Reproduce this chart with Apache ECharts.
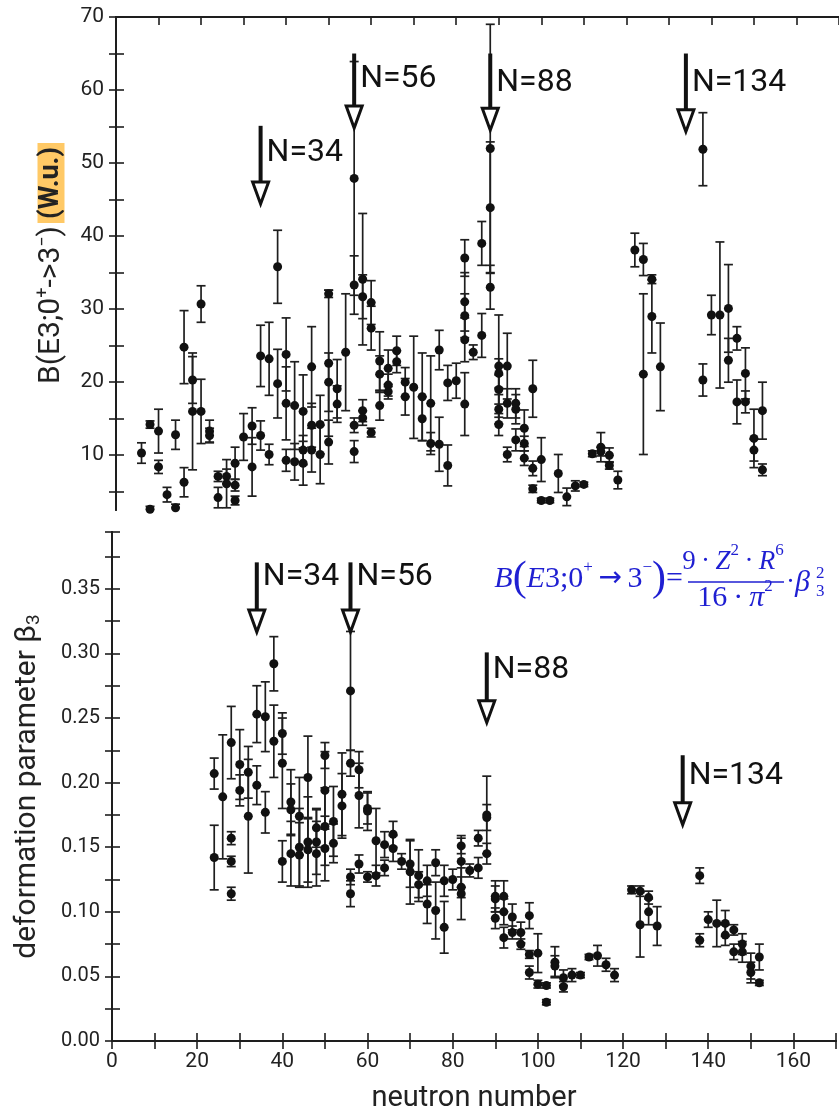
<!DOCTYPE html>
<html>
<head>
<meta charset="utf-8">
<script src="https://cdn.jsdelivr.net/npm/echarts@6/dist/echarts.min.js"></script>
<style>
  html, body { margin: 0; padding: 0; background: #fff; }
  #chart { width: 839px; height: 1114px; }
</style>
</head>
<body>
<div id="chart"></div>
<script>
// upper panel: B(E3; 0+ -> 3-) in W.u.
var topN = [6, 8, 8, 10, 10, 12, 14, 14, 16, 16, 18, 18, 20, 20, 22, 22, 24, 24, 26, 26,
  28, 28, 28, 30, 32, 32, 34, 34, 36, 36, 38, 38, 40, 40, 40, 42, 42, 44, 44, 44,
  46, 46, 46, 48, 48, 50, 50, 50, 50, 52, 52, 54, 56, 56, 56, 56, 58, 58, 58, 58,
  60, 60, 60, 62, 62, 62, 64, 64, 64, 66, 66, 68, 68, 70, 72, 72, 74, 74, 76, 76,
  78, 78, 80, 82, 82, 82, 82, 82, 84, 86, 86, 88, 88, 88, 90, 90, 90, 90, 90, 92,
  92, 92, 94, 94, 94, 96, 96, 96, 98, 98, 98, 100, 100, 102, 104, 106, 108, 110, 112, 114,
  114, 116, 116, 118, 122, 124, 124, 126, 126, 128, 138, 138, 140, 142, 144, 144, 146, 146, 148, 148,
  150, 150, 152, 152];
var topB = [10.3, 14.2, 2.6, 13.3, 8.4, 4.6, 12.8, 2.8, 24.8, 6.3, 20.3, 16.0, 30.7, 16.0, 13.3, 12.7, 7.1, 4.2, 7.1, 6.1,
  8.9, 5.9, 3.8, 12.5, 14.0, 8.4, 23.6, 12.7, 23.2, 10.1, 35.8, 19.8, 23.8, 17.1, 9.3, 16.8, 9.1, 16.0, 10.7, 8.9,
  22.1, 14.1, 10.7, 14.2, 10.1, 32.1, 22.6, 20.0, 11.8, 19.1, 17.0, 24.1, 47.9, 33.3, 14.1, 10.5, 34.1, 31.7, 16.1, 15.1,
  30.9, 27.4, 13.1, 22.9, 21.1, 16.8, 21.9, 19.6, 18.7, 24.3, 22.8, 20.0, 18.0, 19.3, 18.0, 15.0, 17.1, 11.6, 24.4, 11.5,
  19.9, 8.6, 20.2, 37.0, 31.0, 29.1, 25.8, 17.0, 24.1, 39.0, 26.4, 52.0, 43.9, 33.0, 22.2, 21.2, 19.0, 16.3, 14.2, 22.2,
  17.1, 10.1, 17.1, 16.3, 12.1, 13.7, 11.6, 9.6, 19.1, 8.2, 5.4, 9.4, 3.8, 3.8, 7.5, 4.3, 5.8, 6.0, 10.2, 11.1,
  10.5, 10.0, 8.6, 6.6, 38.1, 36.8, 21.1, 34.1, 29.0, 22.1, 51.9, 20.3, 29.2, 29.2, 30.1, 23.0, 26.0, 17.3, 21.2, 17.3,
  12.3, 10.7, 16.1, 8.0];
var topErr = [1.4, 0.5, 0.4, 3.0, 0.9, 1.0, 2.0, 0.5, 5.0, 2.0, 3.2, 8.0, 2.5, 4.4, 1.5, 1.0, 0.7, 1.4, 1.0, 3.3,
  2.2, 0.8, 0.6, 3.2, 2.5, 4.0, 4.2, 2.0, 5.0, 1.4, 5.0, 4.7, 5.0, 5.0, 1.5, 6.0, 2.5, 5.0, 2.0, 3.0,
  5.5, 3.0, 3.0, 4.0, 4.0, 0.5, 10.0, 4.0, 3.0, 4.0, 2.5, 8.0, 16.0, 4.0, 1.0, 1.5, 9.0, 3.0, 1.5, 1.0,
  3.0, 3.0, 0.6, 4.0, 2.5, 2.0, 2.5, 1.5, 1.0, 2.0, 1.5, 2.0, 2.5, 7.0, 6.0, 3.0, 6.5, 1.5, 2.7, 3.7,
  2.4, 2.8, 2.4, 2.5, 4.0, 3.0, 3.0, 4.3, 1.0, 3.0, 3.0, 17.0, 9.0, 3.0, 7.0, 2.0, 2.0, 2.0, 1.5, 4.5,
  2.0, 1.0, 2.0, 2.0, 1.5, 2.5, 1.0, 1.0, 3.9, 1.0, 0.5, 3.0, 0.3, 0.3, 2.6, 1.2, 0.7, 0.3, 0.4, 2.0,
  0.6, 1.0, 0.5, 1.2, 2.3, 2.2, 11.0, 0.6, 5.0, 6.0, 5.0, 2.2, 2.7, 10.0, 6.0, 3.0, 1.6, 3.0, 3.5, 1.5,
  4.0, 1.5, 3.9, 0.8];

// lower panel: deformation parameter beta3
var botN = [24, 24, 26, 28, 28, 28, 28, 30, 30, 32, 32, 34, 34, 36, 36, 38, 38, 40, 40, 40,
  42, 42, 42, 44, 44, 44, 46, 46, 46, 48, 48, 48, 50, 50, 50, 50, 52, 52, 54, 54,
  56, 56, 56, 56, 58, 58, 58, 60, 60, 60, 62, 62, 64, 64, 66, 66, 68, 70, 70, 72,
  72, 74, 74, 76, 76, 78, 78, 80, 82, 82, 82, 82, 84, 86, 86, 88, 88, 88, 90, 90,
  90, 92, 92, 92, 94, 94, 96, 96, 98, 98, 98, 100, 100, 102, 102, 104, 104, 106, 106, 108,
  110, 112, 114, 116, 118, 122, 124, 124, 126, 126, 128, 138, 138, 140, 142, 144, 144, 146, 146, 148,
  148, 150, 150, 152, 152];
var botBeta = [0.207, 0.142, 0.189, 0.231, 0.157, 0.139, 0.114, 0.214, 0.194, 0.208, 0.174, 0.253, 0.198, 0.251, 0.177, 0.292, 0.232, 0.238, 0.215, 0.139,
  0.185, 0.179, 0.145, 0.174, 0.150, 0.144, 0.204, 0.154, 0.148, 0.165, 0.154, 0.145, 0.221, 0.194, 0.166, 0.149, 0.170, 0.153, 0.191, 0.182,
  0.271, 0.215, 0.127, 0.114, 0.210, 0.190, 0.137, 0.180, 0.178, 0.127, 0.155, 0.128, 0.152, 0.134, 0.160, 0.149, 0.139, 0.137, 0.131, 0.128,
  0.121, 0.124, 0.106, 0.138, 0.101, 0.124, 0.088, 0.125, 0.151, 0.139, 0.119, 0.114, 0.132, 0.157, 0.134, 0.175, 0.173, 0.145, 0.112, 0.110,
  0.095, 0.112, 0.100, 0.080, 0.096, 0.084, 0.084, 0.075, 0.097, 0.067, 0.053, 0.068, 0.044, 0.043, 0.030, 0.061, 0.058, 0.049, 0.042, 0.051,
  0.051, 0.065, 0.066, 0.059, 0.051, 0.117, 0.116, 0.090, 0.111, 0.100, 0.089, 0.128, 0.078, 0.094, 0.091, 0.091, 0.082, 0.086, 0.069, 0.075,
  0.069, 0.058, 0.053, 0.065, 0.045];
var botErr = [0.012, 0.025, 0.048, 0.028, 0.005, 0.004, 0.005, 0.027, 0.012, 0.020, 0.044, 0.022, 0.015, 0.027, 0.016, 0.021, 0.028, 0.016, 0.035, 0.016,
  0.025, 0.020, 0.025, 0.030, 0.030, 0.025, 0.032, 0.035, 0.025, 0.015, 0.025, 0.025, 0.010, 0.030, 0.030, 0.025, 0.027, 0.015, 0.032, 0.025,
  0.046, 0.010, 0.006, 0.010, 0.014, 0.025, 0.007, 0.012, 0.015, 0.004, 0.025, 0.008, 0.010, 0.006, 0.010, 0.010, 0.006, 0.018, 0.025, 0.020,
  0.010, 0.012, 0.015, 0.010, 0.022, 0.012, 0.020, 0.008, 0.006, 0.020, 0.008, 0.020, 0.005, 0.006, 0.008, 0.030, 0.010, 0.008, 0.012, 0.010,
  0.008, 0.012, 0.010, 0.008, 0.010, 0.005, 0.008, 0.004, 0.010, 0.003, 0.005, 0.015, 0.003, 0.002, 0.002, 0.012, 0.008, 0.006, 0.004, 0.005,
  0.002, 0.002, 0.008, 0.005, 0.005, 0.003, 0.004, 0.025, 0.005, 0.010, 0.015, 0.006, 0.005, 0.006, 0.018, 0.010, 0.008, 0.004, 0.006, 0.008,
  0.008, 0.010, 0.008, 0.010, 0.002];

// magic-number arrows
var magicN = [34, 56, 88, 134];
var magicLabels = ['N=34', 'N=56', 'N=88', 'N=134'];
var topArrowFrom = [55.1, 65, 65, 65];
var topArrowTo = [44.4, 54.8, 54.5, 54.3];
var topLabelAt = [51.4, 61.5, 61.0, 61.0];
var botArrowFrom = [0.3705, 0.3705, 0.3008, 0.2212];
var botArrowTo = [0.3166, 0.3166, 0.2464, 0.1674];
var botLabelAt = [0.359, 0.359, 0.287, 0.2055];

var FONT = 'Roboto, "DejaVu Sans", sans-serif';
var SERIF = '"Liberation Serif", "DejaVu Serif", serif';
var INK = '#1e1e1e';
var BLUE = '#1f1fd2';

function onStep(v, step) {
  var q = v / step;
  return Math.abs(q - Math.round(q)) < 1e-6;
}

function errorBar(params, api) {
  var x = api.value(0);
  var lo = api.coord([x, api.value(1)]);
  var hi = api.coord([x, api.value(2)]);
  var w = 4.5;
  var st = { stroke: INK, lineWidth: 1.7 };
  return {
    type: 'group',
    children: [
      { type: 'line', shape: { x1: lo[0], y1: lo[1], x2: hi[0], y2: hi[1] }, style: st },
      { type: 'line', shape: { x1: lo[0] - w, y1: lo[1], x2: lo[0] + w, y2: lo[1] }, style: st },
      { type: 'line', shape: { x1: hi[0] - w, y1: hi[1], x2: hi[0] + w, y2: hi[1] }, style: st }
    ]
  };
}

function arrow(params, api) {
  var x = api.value(0);
  var top = api.coord([x, api.value(1)]);
  var tip = api.coord([x, api.value(2)]);
  var lab = api.coord([x, api.value(3)]);
  var headH = 22, headW = 8;
  return {
    type: 'group',
    children: [
      { type: 'line', shape: { x1: top[0], y1: top[1], x2: tip[0], y2: tip[1] - headH + 2 },
        style: { stroke: '#111', lineWidth: 4 } },
      { type: 'polygon',
        shape: { points: [[tip[0] - headW, tip[1] - headH], [tip[0] + headW, tip[1] - headH], [tip[0], tip[1]]] },
        style: { fill: '#fff', stroke: '#111', lineWidth: 3 } },
      { type: 'text', x: top[0] + 6, y: lab[1],
        style: { text: magicLabels[params.dataIndex], fontSize: 32, fontFamily: FONT, fill: '#111',
          align: 'left', verticalAlign: 'middle' } }
    ]
  };
}

var topPoints = [], topBars = [], botPoints = [], botBars = [];
topN.forEach(function (n, i) {
  topPoints.push([n, topB[i]]);
  topBars.push([n, topB[i] - topErr[i], topB[i] + topErr[i]]);
});
botN.forEach(function (n, i) {
  botPoints.push([n, botBeta[i]]);
  botBars.push([n, botBeta[i] - botErr[i], botBeta[i] + botErr[i]]);
});
var topArrows = magicN.map(function (n, i) { return [n, topArrowFrom[i], topArrowTo[i], topLabelAt[i]]; });
var botArrows = magicN.map(function (n, i) { return [n, botArrowFrom[i], botArrowTo[i], botLabelAt[i]]; });

var axisLine = { show: true, lineStyle: { color: INK, width: 2 } };
var tickStyle = { color: INK, width: 1.6 };
var labelStyle = { color: '#222', fontFamily: FONT, fontSize: 21 };

var topTicks = [], topLabels = [];
for (var t = 5; t <= 70; t += 5) { topTicks.push(t); if (t % 10 === 0) topLabels.push(t); }

var fRich = {
  i: { fontFamily: SERIF, fontStyle: 'italic', fontSize: 27, lineHeight: 40 },
  r: { fontFamily: SERIF, fontSize: 27, lineHeight: 40 },
  L: { fontFamily: SERIF, fontStyle: 'italic', fontSize: 30, lineHeight: 40 },
  R: { fontFamily: SERIF, fontSize: 30, lineHeight: 40 },
  a: { fontFamily: '"DejaVu Sans", sans-serif', fontSize: 28, lineHeight: 40 },
  u: { fontFamily: SERIF, fontSize: 17, lineHeight: 23, verticalAlign: 'top' },
  p: { fontFamily: SERIF, fontSize: 42, lineHeight: 40 }
};
var THIN = '\u2009';

var chart = echarts.init(document.getElementById('chart'));
chart.setOption({
  animation: false,
  backgroundColor: '#fff',
  grid: [
    { left: 116, right: -4, top: 17, height: 493 },
    { left: 112, right: -4, top: 532, bottom: 71 }
  ],
  xAxis: [
    { gridIndex: 0, type: 'value', min: 0, max: 170, show: false },
    { gridIndex: 0, type: 'value', position: 'top', min: 0, max: 170, interval: 10,
      axisLine: axisLine, axisTick: { inside: true, length: 8, lineStyle: tickStyle },
      axisLabel: { show: false }, splitLine: { show: false } },
    { gridIndex: 1, type: 'value', position: 'bottom', min: 0, max: 170, interval: 10,
      axisLine: axisLine, axisTick: { inside: true, length: 8, lineStyle: tickStyle },
      axisLabel: Object.assign({ margin: 10, formatter: function (v) { return (v % 20 === 0 && v < 170) ? String(v) : ''; } }, labelStyle),
      splitLine: { show: false },
      name: 'neutron number', nameLocation: 'middle', nameGap: 43,
      nameTextStyle: { fontFamily: FONT, fontSize: 29, color: '#222' } },
    { gridIndex: 1, type: 'value', position: 'top', min: 0, max: 170, interval: 10,
      axisLine: axisLine, axisTick: { inside: true, length: 8, lineStyle: tickStyle },
      axisLabel: { show: false }, splitLine: { show: false } }
  ],
  yAxis: [
    { gridIndex: 0, type: 'value', position: 'left', min: 2.5, max: 70,
      axisLine: axisLine,
      axisTick: { inside: true, length: 8, lineStyle: tickStyle, customValues: topTicks },
      axisLabel: Object.assign({ margin: 12, customValues: topLabels }, labelStyle),
      splitLine: { show: false },
      name: '{m|B(E3;0}{s|+}{m|->3}{s|\u2212}{m|)} {h|(W.u.)}',
      nameLocation: 'middle', nameGap: 48, nameRotate: 90,
      nameTextStyle: {
        fontFamily: FONT, color: '#222',
        rich: {
          m: { fontFamily: FONT, fontSize: 30, lineHeight: 34, color: '#222' },
          s: { fontFamily: FONT, fontSize: 18, lineHeight: 18, verticalAlign: 'top', color: '#222' },
          h: { fontFamily: FONT, fontSize: 27, fontWeight: 'bold', lineHeight: 32, color: '#222',
            backgroundColor: '#FFC966', padding: [0, 4] }
        }
      } },
    { gridIndex: 0, type: 'value', position: 'right', min: 2.5, max: 70,
      axisLine: axisLine,
      axisTick: { inside: true, length: 7, lineStyle: tickStyle, customValues: topTicks },
      axisLabel: { show: false }, splitLine: { show: false } },
    { gridIndex: 1, type: 'value', position: 'left', min: 0, max: 0.394, interval: 0.025,
      axisLine: axisLine, axisTick: { inside: true, length: 8, lineStyle: tickStyle },
      axisLabel: Object.assign({ margin: 12, formatter: function (v) { return (onStep(v, 0.05) && v < 0.39) ? v.toFixed(2) : ''; } }, labelStyle, { fontSize: 20 }),
      splitLine: { show: false },
      name: 'deformation parameter \u03b2{s|3}',
      nameLocation: 'middle', nameGap: 68, nameRotate: 90,
      nameTextStyle: {
        fontFamily: FONT, fontSize: 30, color: '#222',
        rich: { s: { fontFamily: FONT, fontSize: 19, lineHeight: 34, verticalAlign: 'bottom', color: '#222' } }
      } },
    { gridIndex: 1, type: 'value', position: 'right', min: 0, max: 0.394, interval: 0.025,
      axisLine: axisLine, axisTick: { inside: true, length: 7, lineStyle: tickStyle },
      axisLabel: { show: false }, splitLine: { show: false } }
  ],
  graphic: [
    { type: 'text', x: 683, y: 579, z: 10,
      style: { text: '{L|B}{p|(}{L|E}{R|3;0}{u|+}{a|' + THIN + '\u2192' + THIN + '}{R|3}{u|\u2212}{p|)}{R|=}', fill: BLUE,
        align: 'right', verticalAlign: 'middle', rich: fRich } },
    { type: 'text', x: 733, y: 582, z: 10,
      style: { text: '{r|9' + THIN + '\u00b7' + THIN + '}{i|Z}{u|2}{r|' + THIN + '\u00b7' + THIN + '}{i|R}{u|6}', fill: BLUE,
        align: 'center', verticalAlign: 'bottom', rich: fRich } },
    { type: 'line', z: 10, shape: { x1: 688, y1: 582, x2: 784, y2: 582 }, style: { stroke: BLUE, lineWidth: 1.4 } },
    { type: 'text', x: 735, y: 578, z: 10,
      style: { text: '{R|16' + THIN + '\u00b7' + THIN + '}{L|\u03c0}{u|2}', fill: BLUE,
        align: 'center', verticalAlign: 'top', rich: fRich } },
    { type: 'text', x: 786, y: 583, z: 10,
      style: { text: '{r|\u00b7}{L|\u03b2}', fill: BLUE, align: 'left', verticalAlign: 'middle', rich: fRich } },
    { type: 'text', x: 816, y: 582, z: 10,
      style: { text: '2', fill: BLUE, fontFamily: SERIF, fontSize: 17, align: 'left', verticalAlign: 'bottom' } },
    { type: 'text', x: 816, y: 583, z: 10,
      style: { text: '3', fill: BLUE, fontFamily: SERIF, fontSize: 17, align: 'left', verticalAlign: 'top' } }
  ],
  series: [
    { type: 'custom', xAxisIndex: 0, yAxisIndex: 0, data: topBars, renderItem: errorBar, clip: true,
      encode: { x: 0, y: [1, 2] }, silent: true, z: 2 },
    { type: 'scatter', xAxisIndex: 0, yAxisIndex: 0, data: topPoints, symbol: 'circle', symbolSize: 9,
      itemStyle: { color: '#111', opacity: 1 }, clip: true, silent: true, z: 3 },
    { type: 'custom', xAxisIndex: 0, yAxisIndex: 0, data: topArrows, renderItem: arrow,
      encode: { x: 0, y: [1, 2] }, silent: true, z: 4 },
    { type: 'custom', xAxisIndex: 2, yAxisIndex: 2, data: botBars, renderItem: errorBar, clip: true,
      encode: { x: 0, y: [1, 2] }, silent: true, z: 2 },
    { type: 'scatter', xAxisIndex: 2, yAxisIndex: 2, data: botPoints, symbol: 'circle', symbolSize: 9,
      itemStyle: { color: '#111', opacity: 1 }, clip: true, silent: true, z: 3 },
    { type: 'custom', xAxisIndex: 2, yAxisIndex: 2, data: botArrows, renderItem: arrow,
      encode: { x: 0, y: [1, 2] }, silent: true, z: 4 }
  ]
});
</script>
</body>
</html>
